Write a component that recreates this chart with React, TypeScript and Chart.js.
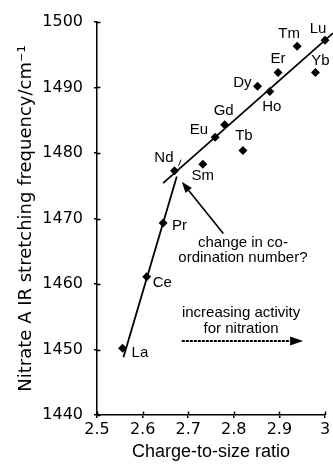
import React, { useEffect, useRef } from 'react';
import { Chart, registerables } from 'chart.js';
Chart.register(...registerables);

// ---- data ----
const elements = ['La', 'Ce', 'Pr', 'Nd', 'Sm', 'Eu', 'Gd', 'Tb', 'Dy', 'Ho', 'Er', 'Tm', 'Yb', 'Lu'];
const chargeToSize = [2.556, 2.609, 2.645, 2.670, 2.732, 2.759, 2.780, 2.820, 2.852, 2.879, 2.897, 2.939, 2.979, 3.000];
const frequency = [1450.2, 1461.1, 1469.3, 1477.3, 1478.3, 1482.4, 1484.3, 1480.4, 1490.2, 1489.4, 1492.3, 1496.3, 1492.3, 1497.2];

const steepFitX = [2.558, 2.675];
const steepFitY = [1448.8, 1476.4];
const shallowFitX = [2.645, 3.0175];
const shallowFitY = [1475.4, 1498.3];

const xTickMin = 2.5;
const xTickMax = 3;
const xTickStep = 0.1;
const yTickMin = 1440;
const yTickMax = 1500;
const yTickStep = 10;

const xTitle = 'Charge-to-size ratio';
const yTitle = 'Nitrate A IR stretching frequency/cm\u207B\u00B9';

const noteCoordText = ['change in co-', 'ordination number?'];
const noteCoordAnchor = [2.82, 1466.3]; // data coords of first text line
const noteCoordArrowFrom = [2.777, 1467.7];
const noteCoordArrowTo = [2.686, 1475.6];

const noteActivityText = ['increasing activity', 'for nitration'];
const noteActivityAnchor = [2.816, 1455.6];
const noteActivityArrowFrom = [2.686, 1451.3];
const noteActivityArrowTo = [2.952, 1451.3];

// ---- styles (label offsets in px) ----
const labelOffsets: Record<string, [number, number, CanvasTextAlign]> = {
  La: [9, 5, 'left'],
  Ce: [6, 6, 'left'],
  Pr: [9, 3, 'left'],
  Nd: [-1, -13, 'right'],
  Sm: [0, 12, 'center'],
  Eu: [-7, -7, 'right'],
  Gd: [-1, -14, 'center'],
  Tb: [1, -15, 'center'],
  Dy: [-6, -3, 'right'],
  Ho: [2, 15, 'center'],
  Er: [0, -14, 'center'],
  Tm: [-8, -12, 'center'],
  Yb: [5, -12, 'center'],
  Lu: [-7, -11, 'center'],
};

const FONT = '"Liberation Sans", Arial, sans-serif';

function drawArrow(ctx: CanvasRenderingContext2D, x1: number, y1: number, x2: number, y2: number, head: number, width: number, dash: number[]) {
  const ang = Math.atan2(y2 - y1, x2 - x1);
  const bx = x2 - head * Math.cos(ang);
  const by = y2 - head * Math.sin(ang);
  ctx.save();
  ctx.setLineDash(dash);
  ctx.beginPath();
  ctx.moveTo(x1, y1);
  ctx.lineTo(bx, by);
  ctx.stroke();
  ctx.setLineDash([]);
  ctx.beginPath();
  ctx.moveTo(x2, y2);
  ctx.lineTo(bx + (width / 2) * Math.sin(ang), by - (width / 2) * Math.cos(ang));
  ctx.lineTo(bx - (width / 2) * Math.sin(ang), by + (width / 2) * Math.cos(ang));
  ctx.closePath();
  ctx.fill();
  ctx.restore();
}

const annotPlugin = {
  id: 'annot',
  afterDraw(chart: any) {
    const { ctx } = chart;
    const xs = chart.scales.x;
    const ys = chart.scales.y;
    ctx.save();
    ctx.strokeStyle = '#000';
    ctx.fillStyle = '#000';
    ctx.lineWidth = 1.5;
    // inner tick marks
    const ax = xs.left;
    const ay = ys.bottom;
    ys.ticks.forEach((t: any) => {
      const py = Math.round(ys.getPixelForValue(t.value)) + 0.5;
      ctx.beginPath();
      ctx.moveTo(ax, py);
      ctx.lineTo(ax + 3.5, py);
      ctx.stroke();
    });
    xs.ticks.forEach((t: any) => {
      const px = Math.round(xs.getPixelForValue(t.value)) + 0.5;
      ctx.beginPath();
      ctx.moveTo(px, ay);
      ctx.lineTo(px, ay - 3.5);
      ctx.stroke();
    });
    // point labels
    ctx.font = `15px ${FONT}`;
    ctx.textBaseline = 'middle';
    elements.forEach((el, i) => {
      const px = xs.getPixelForValue(chargeToSize[i]);
      const py = ys.getPixelForValue(frequency[i]);
      const [dx, dy, al] = labelOffsets[el];
      ctx.textAlign = al;
      ctx.fillText(el, px + dx, py + dy);
    });
    // small pointer near Nd
    {
      const i = elements.indexOf('Nd');
      const px = xs.getPixelForValue(chargeToSize[i]);
      const py = ys.getPixelForValue(frequency[i]);
      ctx.lineWidth = 1;
      ctx.beginPath();
      ctx.moveTo(px + 4, py - 5);
      ctx.lineTo(px + 6.5, py - 11);
      ctx.stroke();
    }
    // notes
    ctx.textAlign = 'center';
    ctx.font = `15px ${FONT}`;
    const lh = 15;
    let tx = xs.getPixelForValue(noteCoordAnchor[0]);
    let ty = ys.getPixelForValue(noteCoordAnchor[1]);
    noteCoordText.forEach((s, k) => ctx.fillText(s, tx, ty + k * lh));
    tx = xs.getPixelForValue(noteActivityAnchor[0]);
    ty = ys.getPixelForValue(noteActivityAnchor[1]);
    noteActivityText.forEach((s, k) => ctx.fillText(s, tx, ty + k * (lh + 1)));
    ctx.lineWidth = 1.6;
    drawArrow(ctx,
      xs.getPixelForValue(noteCoordArrowFrom[0]), ys.getPixelForValue(noteCoordArrowFrom[1]),
      xs.getPixelForValue(noteCoordArrowTo[0]), ys.getPixelForValue(noteCoordArrowTo[1]),
      11, 8, []);
    ctx.lineWidth = 1.8;
    drawArrow(ctx,
      xs.getPixelForValue(noteActivityArrowFrom[0]), ys.getPixelForValue(noteActivityArrowFrom[1]),
      xs.getPixelForValue(noteActivityArrowTo[0]), ys.getPixelForValue(noteActivityArrowTo[1]),
      13, 9, [3, 1]);
    ctx.restore();
  },
};

export default function App() {
  const ref = useRef<HTMLCanvasElement>(null);
  useEffect(() => {
    const canvas = ref.current!;
    const chart = new Chart(canvas, {
      type: 'scatter',
      data: {
        datasets: [
          {
            label: 'steep',
            data: steepFitX.map((x, i) => ({ x, y: steepFitY[i] })),
            showLine: true,
            borderColor: '#000',
            borderWidth: 1.8,
            pointRadius: 0,
            clip: false as any,
          },
          {
            label: 'shallow',
            data: shallowFitX.map((x, i) => ({ x, y: shallowFitY[i] })),
            showLine: true,
            borderColor: '#000',
            borderWidth: 1.8,
            pointRadius: 0,
            clip: false as any,
          },
          {
            label: 'Ln',
            data: chargeToSize.map((x, i) => ({ x, y: frequency[i] })),
            showLine: false,
            pointStyle: 'rectRot',
            pointRadius: 4.5,
            backgroundColor: '#000',
            borderColor: '#000',
            borderWidth: 0,
            clip: false as any,
          },
        ],
      },
      options: {
        responsive: false,
        animation: false,
        devicePixelRatio: 1,
        layout: { padding: { top: 22, right: 8, left: 0, bottom: 0 } },
        plugins: { legend: { display: false }, tooltip: { enabled: false } },
        scales: {
          x: {
            type: 'linear',
            min: xTickMin,
            max: xTickMax,
            ticks: {
              stepSize: xTickStep,
              color: '#000',
              font: { family: 'DejaVu Sans', size: 16 },
              padding: 2,
              maxRotation: 0,
              autoSkip: false,
              callback: (v: any) => String(Math.round(Number(v) * 10) / 10),
            },
            grid: { drawOnChartArea: false, tickLength: 3, color: '#000', lineWidth: 1.5 },
            border: { color: '#000', width: 1.5 },
            title: {
              display: true,
              text: xTitle,
              color: '#000',
              font: { family: 'Liberation Sans', size: 18 },
              padding: { top: 0, bottom: 5 },
            },
            afterFit: (s: any) => { s.height = 53; },
          },
          y: {
            type: 'linear',
            min: yTickMin,
            max: yTickMax,
            ticks: {
              stepSize: yTickStep,
              color: '#000',
              font: { family: 'DejaVu Sans', size: 16 },
              padding: 11,
              callback: (v: any) => String(Math.round(Number(v))),
            },
            grid: { drawOnChartArea: false, tickLength: 3, color: '#000', lineWidth: 1.5 },
            border: { color: '#000', width: 1.5 },
            title: {
              display: true,
              text: yTitle,
              color: '#000',
              font: { family: 'DejaVu Sans', size: 18 },
              padding: { top: 16, bottom: 0 },
            },
            afterFit: (s: any) => { s.width = 97; },
          },
        },
      },
      plugins: [annotPlugin],
    });
    return () => chart.destroy();
  }, []);
  return (
    <div style={{ position: 'absolute', left: 0, top: 0 }}>
      <canvas ref={ref} width={333} height={468} style={{ display: 'block', width: 333, height: 468 }} />
    </div>
  );
}
